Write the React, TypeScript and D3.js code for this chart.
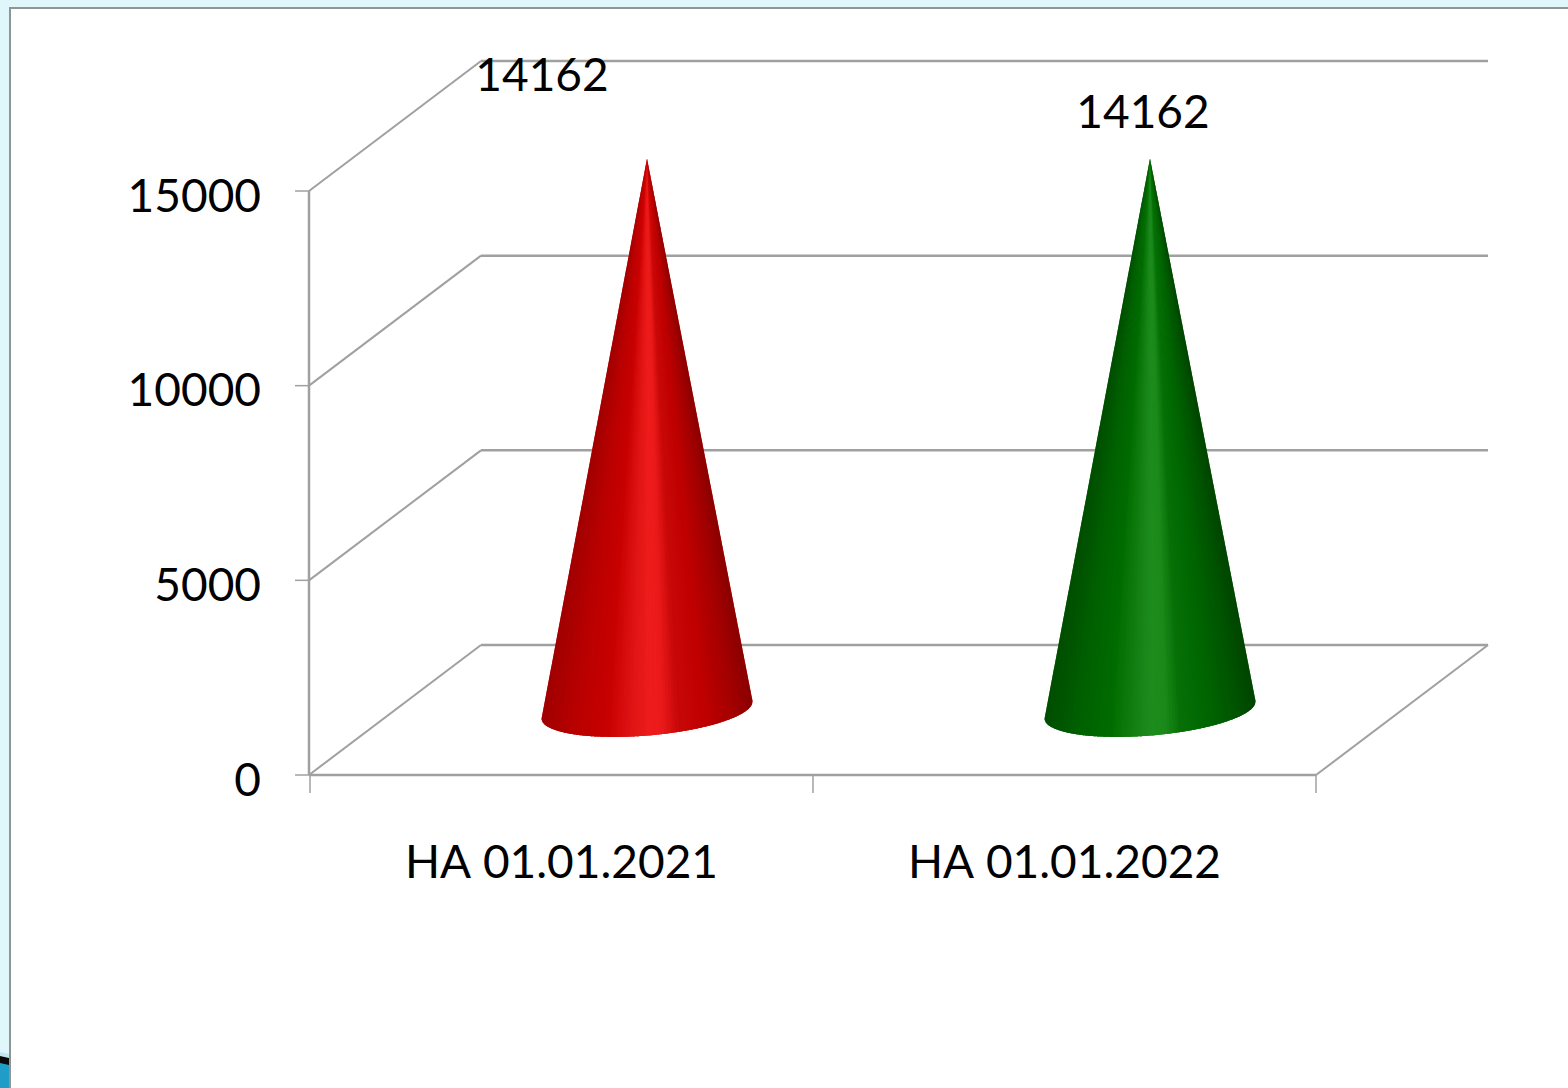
import React from "react";
import * as d3 from "d3";

const categories = ["НА 01.01.2021", "НА 01.01.2022"];
const seriesValues = [14162, 14162];
const yTickValues = [0, 5000, 10000, 15000];
const coneStops = [0, 0.14, 0.3, 0.42, 0.5, 0.56, 0.64, 0.77, 0.92, 1];
const redRamp = ["#a00000", "#b80000", "#c80000", "#e01414", "#ee1c1c", "#ec1a1a", "#c80808", "#c00000", "#a00000", "#8a0000"];
const greenRamp = ["#004d00", "#005f00", "#006c00", "#148014", "#1d8c1d", "#1b8a1b", "#067006", "#006600", "#005200", "#004400"];
const labelOffsets = [[-105, -85], [-7, -48]];

const W = 1568;
const H = 1088;
const left = 310;
const right = 1316;
const floorY = 775;
const topY = 191;
const depthX = 171;
const depthY = 130;
const gridColor = "#a0a0a0";
const FONT = "Lato, 'Open Sans', sans-serif";

const x = d3.scaleBand<string>().domain(categories).range([left, right]);
const y = d3.scaleLinear().domain([0, 15000]).range([floorY, topY]);

const coneHalf = 105.5;
const tiltY = 9;
const minor = 25.5;
const wedges = 70;

function Cone({ cx, base, apex, ramp }: { cx: number; base: number; apex: number; ramp: string[] }) {
  const colour = d3.scaleLinear<string>().domain(coneStops).range(ramp).interpolate(d3.interpolateRgb);
  const rim = (ca: number) => {
    const sa = Math.sqrt(Math.max(0, 1 - ca * ca));
    return [cx + coneHalf * ca + 0.085 * minor * sa, base - tiltY * ca + 0.996 * minor * sa];
  };
  // sample the front rim evenly in x so every wedge is equally wide, then fill the rim
  const fine = d3.range(0, 241).map((i) => rim(-1 + i / 120));
  const slices = d3.range(0, wedges).map((k) => {
    const a = Math.floor((k / wedges) * 240);
    const b = Math.min(240, Math.floor(((k + 1) / wedges) * 240) + 2);
    const points = fine.slice(a, b + 1);
    const f = (k + 0.5) / wedges;
    return { d: `M${cx},${apex}L` + points.map((p) => `${p[0]},${p[1]}`).join("L") + "Z", c: colour(f) };
  });
  // fine[] samples near the ends are coarse on the curve: add the extreme arcs as a thin underlay
  const outline = d3.range(0, 121).map((i) => {
    const t = (i / 120) * Math.PI;
    const ca = Math.cos(t);
    return [cx + coneHalf * ca + 0.085 * minor * Math.sin(t), base - tiltY * ca + 0.996 * minor * Math.sin(t)];
  });
  return (
    <g>
      <path d={`M${cx},${apex}L` + outline.map((p) => `${p[0]},${p[1]}`).join("L") + "Z"} fill={ramp[5]} />
      {slices.map((s, i) => (
        <path key={i} d={s.d} fill={s.c} />
      ))}
    </g>
  );
}

export default function App() {
  const ramps = [redRamp, greenRamp];
  return (
    <svg
      width={W}
      height={H}
      viewBox={`0 0 ${W} ${H}`}
      style={{ position: "fixed", left: 0, top: 0, display: "block" }}
      fontFamily={FONT}
    >
      <rect width={W} height={H} fill="#dff6fb" />
      <path d="M0,1052L9,1054L9,1058L0,1056Z" fill="#c2e8ef" />
      <path d="M0,1062L9,1064L9,1088L0,1088Z" fill="#1f9cc8" />
      <path d="M0,1056L9,1058L9,1065L0,1063Z" fill="#0a0a0a" />
      <rect x={10} y={8} width={W} height={H} fill="#fff" />
      <path d="M10,1088V8H1568" fill="none" stroke="#8f9494" strokeWidth={2} />

      <g stroke={gridColor} fill="none">
        {yTickValues.map((v) => (
          <g key={v}>
            <line x1={left + depthX} x2={1488} y1={y(v) - depthY} y2={y(v) - depthY} strokeWidth={2.5} />
            <line x1={left - 1} y1={y(v)} x2={left + depthX} y2={y(v) - depthY} strokeWidth={2} />
            <line x1={295} x2={left - 1} y1={y(v)} y2={y(v)} strokeWidth={1.5} />
          </g>
        ))}
        <line x1={left - 1} x2={left - 1} y1={topY} y2={floorY} strokeWidth={2.5} />
        <line x1={left - 1} x2={right} y1={floorY} y2={floorY} strokeWidth={2.5} />
        <line x1={right} y1={floorY} x2={1488} y2={floorY - depthY} strokeWidth={2} />
        {[...categories.map((c) => x(c)!), right].map((t) => (
          <line key={t} x1={t} x2={t} y1={floorY} y2={793} strokeWidth={1.5} />
        ))}
      </g>

      {yTickValues.map((v) => (
        <text key={v} x={261} y={y(v) + 3} textAnchor="end" dominantBaseline="central" fontSize={46} fill="#000">
          {v}
        </text>
      ))}

      {categories.map((c, i) => {
        const cx = x(c)! + x.bandwidth() / 2 + depthX / 2;
        const base = y(0) - depthY / 2;
        const apex = base - (y(0) - y(seriesValues[i]));
        return (
          <g key={c}>
            <Cone cx={cx} base={base} apex={apex} ramp={ramps[i]} />
            <text
              x={cx + labelOffsets[i][0]}
              y={apex + labelOffsets[i][1]}
              textAnchor="middle"
              dominantBaseline="central"
              fontSize={46}
              fill="#000"
            >
              {seriesValues[i]}
            </text>
            <text
              x={x(c)! + x.bandwidth() / 2}
              y={860}
              textAnchor="middle"
              dominantBaseline="central"
              fontSize={46}
              fill="#000"
            >
              {c}
            </text>
          </g>
        );
      })}
    </svg>
  );
}
